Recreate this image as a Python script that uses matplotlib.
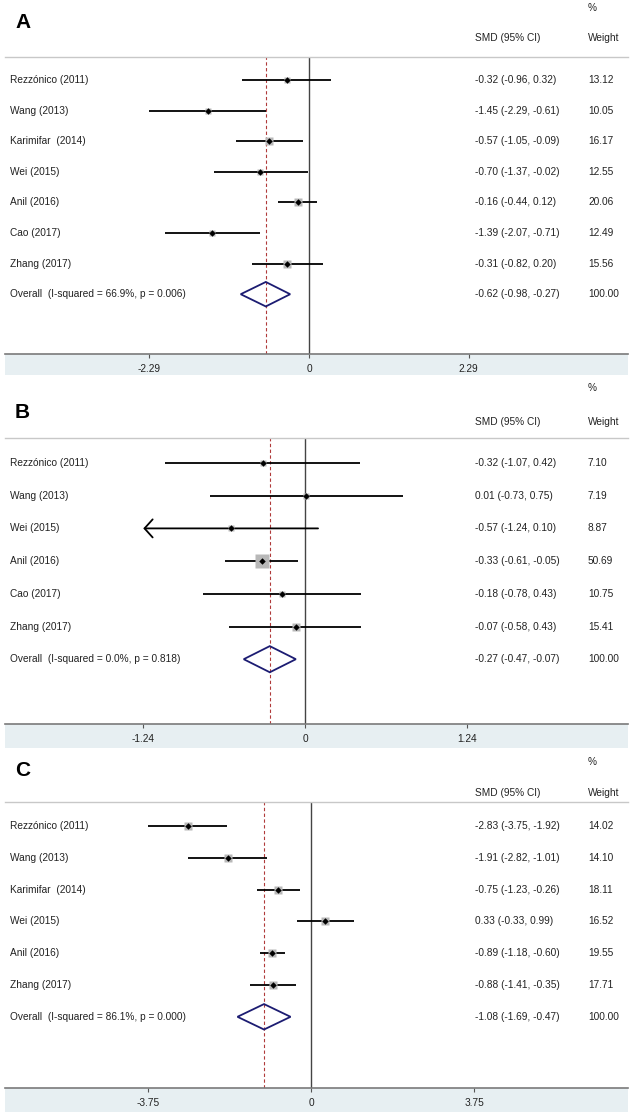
import matplotlib
matplotlib.use('Agg')
import matplotlib.pyplot as plt
from matplotlib.patches import Rectangle, Polygon
from matplotlib.lines import Line2D
from matplotlib.transforms import blended_transform_factory

plt.rcParams['font.family'] = ['Liberation Sans', 'DejaVu Sans']
plt.rcParams['axes.unicode_minus'] = False

# ---------------- data ----------------
a_studies = ["Rezzónico (2011)", "Wang (2013)", "Karimifar  (2014)", "Wei (2015)",
             "Anil (2016)", "Cao (2017)", "Zhang (2017)"]
a_smd = [-0.32, -1.45, -0.57, -0.70, -0.16, -1.39, -0.31]
a_lo = [-0.96, -2.29, -1.05, -1.37, -0.44, -2.07, -0.82]
a_hi = [0.32, -0.61, -0.09, -0.02, 0.12, -0.71, 0.20]
a_weight = [13.12, 10.05, 16.17, 12.55, 20.06, 12.49, 15.56]
a_arrow = [False, False, False, False, False, False, False]
a_overall = [-0.62, -0.98, -0.27]
a_overall_label = "Overall  (I-squared = 66.9%, p = 0.006)"
a_ticks = [-2.29, 0, 2.29]
a_ticklabels = ["-2.29", "0", "2.29"]

b_studies = ["Rezzónico (2011)", "Wang (2013)", "Wei (2015)", "Anil (2016)",
             "Cao (2017)", "Zhang (2017)"]
b_smd = [-0.32, 0.01, -0.57, -0.33, -0.18, -0.07]
b_lo = [-1.07, -0.73, -1.24, -0.61, -0.78, -0.58]
b_hi = [0.42, 0.75, 0.10, -0.05, 0.43, 0.43]
b_weight = [7.10, 7.19, 8.87, 50.69, 10.75, 15.41]
b_arrow = [False, False, True, False, False, False]
b_overall = [-0.27, -0.47, -0.07]
b_overall_label = "Overall  (I-squared = 0.0%, p = 0.818)"
b_ticks = [-1.24, 0, 1.24]
b_ticklabels = ["-1.24", "0", "1.24"]

c_studies = ["Rezzónico (2011)", "Wang (2013)", "Karimifar  (2014)", "Wei (2015)",
             "Anil (2016)", "Zhang (2017)"]
c_smd = [-2.83, -1.91, -0.75, 0.33, -0.89, -0.88]
c_lo = [-3.75, -2.82, -1.23, -0.33, -1.18, -1.41]
c_hi = [-1.92, -1.01, -0.26, 0.99, -0.60, -0.35]
c_weight = [14.02, 14.10, 18.11, 16.52, 19.55, 17.71]
c_arrow = [False, False, False, False, False, False]
c_overall = [-1.08, -1.69, -0.47]
c_overall_label = "Overall  (I-squared = 86.1%, p = 0.000)"
c_ticks = [-3.75, 0, 3.75]
c_ticklabels = ["-3.75", "0", "3.75"]

# ---------------- layout (pixels) ----------------
W, H = 638, 1116
fig = plt.figure(figsize=(W / 100, H / 100), dpi=100)


def fx(px):
    return px / W


def fy(py):
    return 1 - py / H


XL, XR = 5, 628
TXT = '#222222'
FS = 7.3
panels = [
    dict(letter='A', studies=a_studies, smd=a_smd, lo=a_lo, hi=a_hi, w=a_weight, arrow=a_arrow,
         ov=a_overall, ovl=a_overall_label, ticks=a_ticks, tl=a_ticklabels,
         letter_y=22, pct_y=8, hdr_y=38, top=57, axis=354, strip=375, row0=80, step=30.6,
         x0=309, scale=69.7),
    dict(letter='B', studies=b_studies, smd=b_smd, lo=b_lo, hi=b_hi, w=b_weight, arrow=b_arrow,
         ov=b_overall, ovl=b_overall_label, ticks=b_ticks, tl=b_ticklabels,
         letter_y=412, pct_y=388, hdr_y=422, top=438, axis=724, strip=748, row0=463, step=32.7,
         x0=305, scale=130.4),
    dict(letter='C', studies=c_studies, smd=c_smd, lo=c_lo, hi=c_hi, w=c_weight, arrow=c_arrow,
         ov=c_overall, ovl=c_overall_label, ticks=c_ticks, tl=c_ticklabels,
         letter_y=770, pct_y=762, hdr_y=793, top=802, axis=1088, strip=1112, row0=826, step=31.8,
         x0=311, scale=43.5),
]

for p in panels:
    # background strip under the axis
    fig.add_artist(Rectangle((fx(XL), fy(p['strip'])), fx(XR) - fx(XL), fy(p['axis']) - fy(p['strip']),
                             transform=fig.transFigure, facecolor='#e7eff2', edgecolor='none', zorder=0))
    # top separator line
    fig.add_artist(Line2D([fx(XL), fx(XR)], [fy(p['top']), fy(p['top'])], transform=fig.transFigure,
                          color='#c8c8c8', lw=1.0, zorder=1))
    # headers
    fig.text(fx(15), fy(p['letter_y']), p['letter'], fontsize=15, fontweight='bold',
             ha='left', va='center', color='black')
    fig.text(fx(588), fy(p['pct_y']), '%', fontsize=FS, ha='left', va='center', color=TXT)
    fig.text(fx(475), fy(p['hdr_y']), 'SMD (95% CI)', fontsize=FS, ha='left', va='center', color=TXT)
    fig.text(fx(588), fy(p['hdr_y']), 'Weight', fontsize=FS, ha='left', va='center', color=TXT)

    ax = fig.add_axes([fx(XL), fy(p['axis']), fx(XR) - fx(XL), fy(p['top']) - fy(p['axis'])])
    ax.patch.set_alpha(0)
    ax.set_xlim((XL - p['x0']) / p['scale'], (XR - p['x0']) / p['scale'])
    ax.set_ylim((p['axis'] - p['row0']) / p['step'], (p['top'] - p['row0']) / p['step'])
    for s in ['top', 'left', 'right']:
        ax.spines[s].set_visible(False)
    ax.spines['bottom'].set_color('#7a7a7a')
    ax.spines['bottom'].set_linewidth(1.2)
    ax.set_yticks([])
    ax.set_xticks(p['ticks'])
    ax.set_xticklabels(p['tl'])
    ax.tick_params(axis='x', direction='out', length=3, width=0.8, color='#555555',
                   pad=4, labelsize=FS, labelcolor=TXT)

    ax.axvline(0, color='#444444', lw=1.0, zorder=2)
    ax.axvline(p['ov'][0], color='#b03a3a', lw=0.8, ls=(0, (3, 2.2)), zorder=2)

    tr = blended_transform_factory(fig.transFigure, ax.transData)
    n = len(p['studies'])
    for i in range(n):
        smd, lo, hi, w = p['smd'][i], p['lo'][i], p['hi'][i], p['w'][i]
        if p['arrow'][i]:
            ax.annotate('', xy=(lo, i), xytext=(hi, i),
                        arrowprops=dict(arrowstyle='->,head_length=0.45,head_width=0.5',
                                        lw=1.3, color='black', mutation_scale=13,
                                        shrinkA=0, shrinkB=0), zorder=3)
        else:
            ax.plot([lo, hi], [i, i], color='black', lw=1.3, solid_capstyle='butt', zorder=3)
        ax.plot(smd, i, marker='s', ms=1.37 * w ** 0.5, color='#b8b8b8', mec='none', zorder=4)
        ax.plot(smd, i, marker='D', ms=3.3, color='black', mec='none', zorder=5)
        ax.text(fx(10), i, p['studies'][i], transform=tr, fontsize=FS, ha='left', va='center', color=TXT)
        ax.text(fx(475), i, f"{smd:.2f} ({lo:.2f}, {hi:.2f})", transform=tr, fontsize=FS,
                ha='left', va='center', color=TXT)
        ax.text(fx(588), i, f"{w:.2f}", transform=tr, fontsize=FS, ha='left', va='center', color=TXT)

    om, olo, ohi = p['ov']
    ax.add_patch(Polygon([(olo, n), (om, n - 0.4), (ohi, n), (om, n + 0.4)], closed=True,
                         fill=False, edgecolor='#1c1c72', lw=1.3, zorder=4))
    ax.text(fx(10), n, p['ovl'], transform=tr, fontsize=FS, ha='left', va='center', color=TXT)
    ax.text(fx(475), n, f"{om:.2f} ({olo:.2f}, {ohi:.2f})", transform=tr, fontsize=FS,
            ha='left', va='center', color=TXT)
    ax.text(fx(588), n, "100.00", transform=tr, fontsize=FS, ha='left', va='center', color=TXT)

fig.savefig('out.png', dpi=100, facecolor='white')
